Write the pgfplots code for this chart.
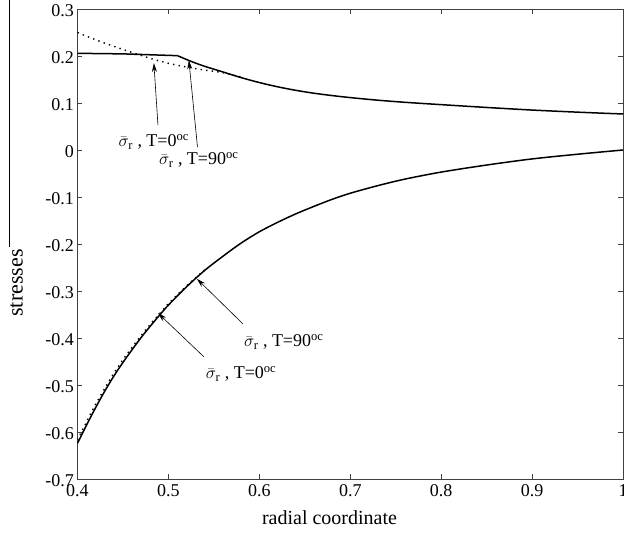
\documentclass[border=0pt]{standalone}
\usepackage{fontspec}
\setmainfont{Liberation Serif}
\usepackage{pgfplots}
\pgfplotsset{compat=1.18}
\usetikzlibrary{arrows.meta}
\begin{document}
\begin{tikzpicture}
\path[use as bounding box] (-77.5pt,-57pt) rectangle (546.5pt,479pt);
\begin{axis}[
  at={(0pt,0pt)}, anchor=south west,
  scale only axis, width=545.5pt, height=470pt,
  xmin=0.4, xmax=1, ymin=-0.7, ymax=0.3,
  xtick={0.4,0.5,0.6,0.7,0.8,0.9,1},
  xticklabels={0.4,0.5,0.6,0.7,0.8,0.9,1},
  ytick={-0.7,-0.6,-0.5,-0.4,-0.3,-0.2,-0.1,0,0.1,0.2,0.3},
  yticklabels={-0.7,-0.6,-0.5,-0.4,-0.3,-0.2,-0.1,0,0.1,0.2,0.3},
  tick align=inside, major tick length=5pt,
  tick label style={font=\fontsize{18}{20}\selectfont},
  xticklabel style={yshift=-2pt},
  yticklabel style={yshift=-1.5pt},
  axis line style={line width=0.8pt, draw=black!75},
  every tick/.style={draw=black!75, line width=0.8pt},
]
% upper curve, solid (T=90): flat part
\addplot[black, line width=1.5pt] coordinates {
 (0.40,0.2057) (0.45,0.2045) (0.51,0.2007)};
% upper curve, solid (T=90): decreasing part
\addplot[black, line width=1.5pt, smooth] coordinates {
 (0.51,0.2007) (0.525,0.1885) (0.54,0.178) (0.56,0.166) (0.58,0.154)
 (0.60,0.1435) (0.62,0.1345) (0.64,0.127) (0.66,0.1208) (0.68,0.1158)
 (0.70,0.1115) (0.73,0.106) (0.76,0.1015) (0.80,0.0965) (0.85,0.0905)
 (0.90,0.0850) (0.95,0.0805) (1.00,0.0766)};
% upper curve, dotted (T=0)
\addplot[black, line width=1.4pt, dash pattern=on 1.4pt off 4.2pt, smooth] coordinates {
 (0.40,0.250) (0.42,0.2345) (0.44,0.2205) (0.46,0.2075) (0.48,0.195)
 (0.50,0.1845) (0.52,0.1765) (0.54,0.170) (0.56,0.1645) (0.58,0.155)};
% lower curve, solid (T=90)
\addplot[black, line width=1.5pt, smooth] coordinates {
 (0.40,-0.624) (0.41,-0.585) (0.42,-0.548) (0.43,-0.513) (0.44,-0.481)
 (0.45,-0.452) (0.46,-0.425) (0.47,-0.399) (0.48,-0.375) (0.49,-0.352)
 (0.50,-0.330) (0.52,-0.291) (0.54,-0.256) (0.56,-0.226) (0.58,-0.198)
 (0.60,-0.174) (0.62,-0.154) (0.64,-0.136) (0.66,-0.120) (0.68,-0.105)
 (0.70,-0.092) (0.73,-0.076) (0.76,-0.062) (0.80,-0.047) (0.85,-0.032)
 (0.90,-0.019) (0.95,-0.009) (1.00,0.000)};
% lower curve, dotted (T=0)
\addplot[black, line width=1.4pt, dash pattern=on 1.4pt off 4.2pt, smooth] coordinates {
 (0.40,-0.617) (0.41,-0.578) (0.42,-0.541) (0.43,-0.507) (0.44,-0.475)
 (0.45,-0.446) (0.46,-0.420) (0.47,-0.395) (0.48,-0.371) (0.49,-0.349)
 (0.50,-0.327) (0.52,-0.289) (0.54,-0.255)};
% annotations
\draw[line width=0.6pt, -{Stealth[length=9pt,width=5pt]}] (axis cs:0.4885,0.053) -- (axis cs:0.484,0.185);
\draw[line width=0.6pt, -{Stealth[length=9pt,width=5pt]}] (axis cs:0.532,0.006) -- (axis cs:0.5225,0.191);
\draw[line width=0.6pt, -{Stealth[length=9pt,width=5pt]}] (axis cs:0.582,-0.370) -- (axis cs:0.5313,-0.274);
\draw[line width=0.6pt, -{Stealth[length=9pt,width=5pt]}] (axis cs:0.539,-0.440) -- (axis cs:0.4885,-0.347);
\node[font=\fontsize{18}{20}\selectfont, inner sep=0pt] at (axis cs:0.484,0.017) {$\bar{\sigma}_{\mathrm{r}}$ , T=0\textsuperscript{oc}};
\node[font=\fontsize{18}{20}\selectfont, inner sep=0pt] at (axis cs:0.5335,-0.021) {$\bar{\sigma}_{\mathrm{r}}$ , T=90\textsuperscript{oc}};
\node[font=\fontsize{18}{20}\selectfont, inner sep=0pt] at (axis cs:0.627,-0.4085) {$\bar{\sigma}_{\mathrm{r}}$ , T=90\textsuperscript{oc}};
\node[font=\fontsize{18}{20}\selectfont, inner sep=0pt] at (axis cs:0.580,-0.4766) {$\bar{\sigma}_{\mathrm{r}}$ , T=0\textsuperscript{oc}};
\end{axis}
\draw[line width=0.8pt] (-68.5pt,479pt) -- (-68.5pt,232pt);
\node[rotate=90, anchor=north, inner sep=1pt, font=\fontsize{22}{24}\selectfont] at (-68.5pt,196pt) {stresses};
\node[font=\fontsize{20}{22}\selectfont] at (252pt,-39pt) {radial coordinate};
\end{tikzpicture}
\end{document}
